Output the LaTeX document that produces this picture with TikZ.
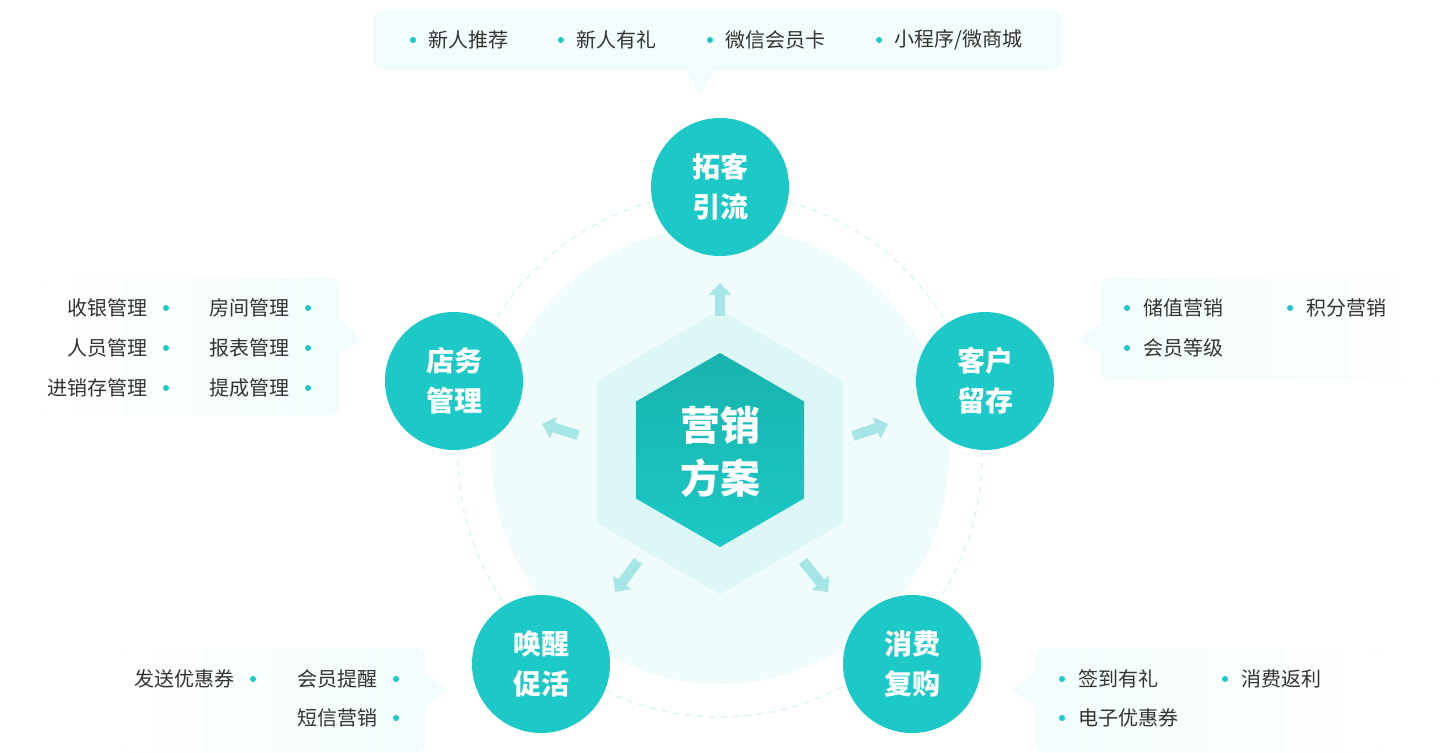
\documentclass[tikz,border=0pt]{standalone}
\usepackage{fontspec}
\setmainfont{Noto Sans CJK SC}
\usetikzlibrary{positioning,calc,arrows.meta}
\definecolor{teal1}{HTML}{1CC9C6}
\definecolor{teal2}{HTML}{18B3AD}
\definecolor{halo}{HTML}{F0FBFB}
\definecolor{hexlight}{HTML}{DDF6F6}
\definecolor{boxfill}{HTML}{F2FCFC}
\definecolor{arrowc}{HTML}{A6E5E5}
\definecolor{itemtext}{HTML}{333333}
\tikzset{
  sat/.style={circle, fill=teal1, minimum size=69pt, inner sep=0pt, text=white,
    font=\fontsize{14}{20}\selectfont\bfseries, align=center},
  item/.style={text=itemtext, font=\fontsize{10}{12}\selectfont, inner sep=0pt},
  dot/.style={circle, fill=teal1, minimum size=3pt, inner sep=0pt},
  flow/.style={arrowc, line width=5pt, -{Triangle[length=6pt,width=11pt]}},
  calloutbox/.style={fill=boxfill, rounded corners=5pt}
}
\begin{document}
\begin{tikzpicture}[x=0.5pt,y=-0.5pt]
    \useasboundingbox (0,0) rectangle (1440,752);

    % Halo and dashed orbit
    \fill[halo] (720,455) circle (114.5pt);
    \draw[hexlight!80!teal1!60, dashed, line width=0.6pt] (720,455) circle (131pt);

    % Hexagons
    \fill[hexlight] (720,452) +(90:142) -- +(150:142) -- +(210:142) -- +(270:142) -- +(330:142) -- +(30:142) -- cycle;
    \shade[top color=teal2, bottom color=teal1] (720,450) +(90:97) -- +(150:97) -- +(210:97) -- +(270:97) -- +(330:97) -- +(30:97) -- cycle;
    \node[text=white, font=\fontsize{20}{26.5}\selectfont\bfseries, align=center] (core) at (720,452) {营销\\方案};

    % Satellites
    \node[sat] (gain) at (720,187) {拓客\\引流};
    \node[sat] (keep) at (985,381) {客户\\留存};
    \node[sat] (rebuy) at (912,664) {消费\\复购};
    \node[sat] (wake) at (541,664) {唤醒\\促活};
    \node[sat] (store) at (454,381) {店务\\管理};

    % Small arrows
    \coordinate (a1) at (720,316); \coordinate (b1) at (720,283);
    \coordinate (a2) at (578,435); \coordinate (b2) at (542,424);
    \coordinate (a3) at (853,436); \coordinate (b3) at (888,424);
    \coordinate (a4) at (638,561); \coordinate (b4) at (615,592);
    \coordinate (a5) at (803,561); \coordinate (b5) at (828,592);
    \foreach \i in {1,...,5} \draw[flow] (a\i) -- (b\i);

    % Top callout
    \fill[calloutbox] (373,10) rectangle (1063,70);
    \fill[boxfill] (686,70) -- (700,95) -- (714,70) -- cycle;
    \foreach \x/\t in {413/新人推荐,561/新人有礼,710/微信会员卡,879/{小程序/微商城}}
      \node[dot] at (\x,40) {} node[item, anchor=west] at (\x+15,40) {\t};

    % Right callout
    \fill[calloutbox, left color=boxfill, right color=white] (1100,278) rectangle (1440,380);
    \fill[boxfill] (1101,322) -- (1078,340) -- (1101,355) -- cycle;
    \foreach \x/\y/\t in {1127/308/储值营销,1290/308/积分营销,1127/348/会员等级}
      \node[dot] at (\x,\y) {} node[item, anchor=west] at (\x+16,\y) {\t};

    % Left callout
    \fill[calloutbox, left color=white, right color=boxfill] (40,278) rectangle (340,415);
    \fill[boxfill] (339,318) -- (362,340) -- (339,355) -- cycle;
    \foreach \x/\y/\t in {166/308/收银管理,166/348/人员管理,166/388/进销存管理,308/308/房间管理,308/348/报表管理,308/388/提成管理}
      \node[dot] at (\x,\y) {} node[item, anchor=east] at (\x-18,\y) {\t};

    % Bottom-left callout
    \fill[calloutbox, left color=white, right color=boxfill] (120,648) rectangle (425,752);
    \fill[boxfill] (424,672) -- (448,690) -- (424,707) -- cycle;
    \foreach \x/\y/\t in {253/679/发送优惠券,396/679/会员提醒,396/718/短信营销}
      \node[dot] at (\x,\y) {} node[item, anchor=east] at (\x-18,\y) {\t};

    % Bottom-right callout
    \fill[calloutbox, left color=boxfill, right color=white] (1035,648) rectangle (1380,752);
    \fill[boxfill] (1036,672) -- (1012,690) -- (1036,707) -- cycle;
    \foreach \x/\y/\t in {1062/679/签到有礼,1225/679/消费返利,1062/718/电子优惠券}
      \node[dot] at (\x,\y) {} node[item, anchor=west] at (\x+16,\y) {\t};
\end{tikzpicture}
\end{document}
